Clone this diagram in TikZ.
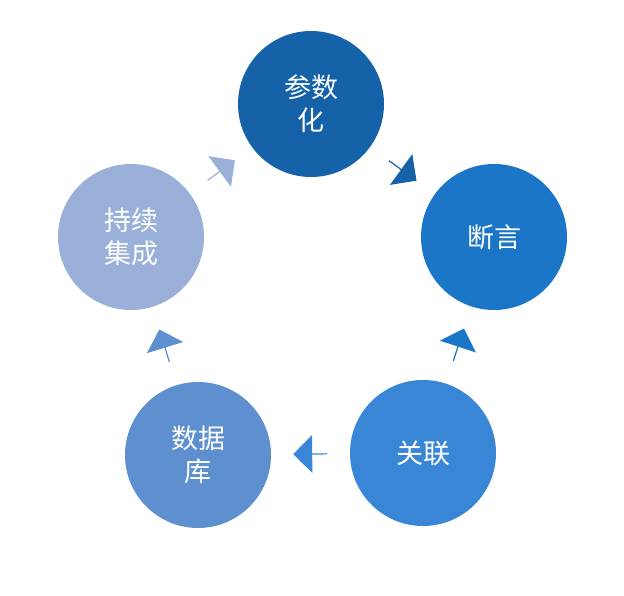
\documentclass[tikz,border=0pt]{standalone}
\usepackage{fontspec}
\newfontfamily\cjk{Noto Sans CJK SC}
\usetikzlibrary{shapes.arrows}
\begin{document}
\begin{tikzpicture}[x=1pt,y=-1pt,
  step node/.style={circle,minimum size=146pt,inner sep=0pt,text=white,
    font=\cjk\fontsize{27}{33}\selectfont,align=center},
  flow arrow/.style={single arrow,sloped,minimum height=34pt,minimum width=38pt,
    single arrow head extend=6pt,inner sep=0pt,draw=none}]
  \useasboundingbox (0,0) rectangle (624,596);
  \node[step node,fill={rgb,255:red,21;green,98;blue,168}] (1) at (311,104) {参数\\化};
  \node[step node,fill={rgb,255:red,28;green,118;blue,200}] (2) at (494,237) {断言};
  \node[step node,fill={rgb,255:red,58;green,134;blue,214}] (3) at (423,453) {关联};
  \node[step node,fill={rgb,255:red,94;green,144;blue,208}] (4) at (198,455) {数据\\库};
  \node[step node,fill={rgb,255:red,154;green,176;blue,216}] (5) at (131,237) {持续\\集成};

  \path (1) -- (2) node[midway,flow arrow,fill={rgb,255:red,21;green,98;blue,168}] {};
  \path (2) -- (3) node[midway,flow arrow,fill={rgb,255:red,28;green,118;blue,200}] {};
  \path (3) -- (4) node[midway,flow arrow,fill={rgb,255:red,58;green,134;blue,214},rotate=180] {};
  \path (4) -- (5) node[midway,flow arrow,fill={rgb,255:red,94;green,144;blue,208},rotate=180] {};
  \path (5) -- (1) node[midway,flow arrow,fill={rgb,255:red,154;green,176;blue,216}] {};
\end{tikzpicture}
\end{document}
